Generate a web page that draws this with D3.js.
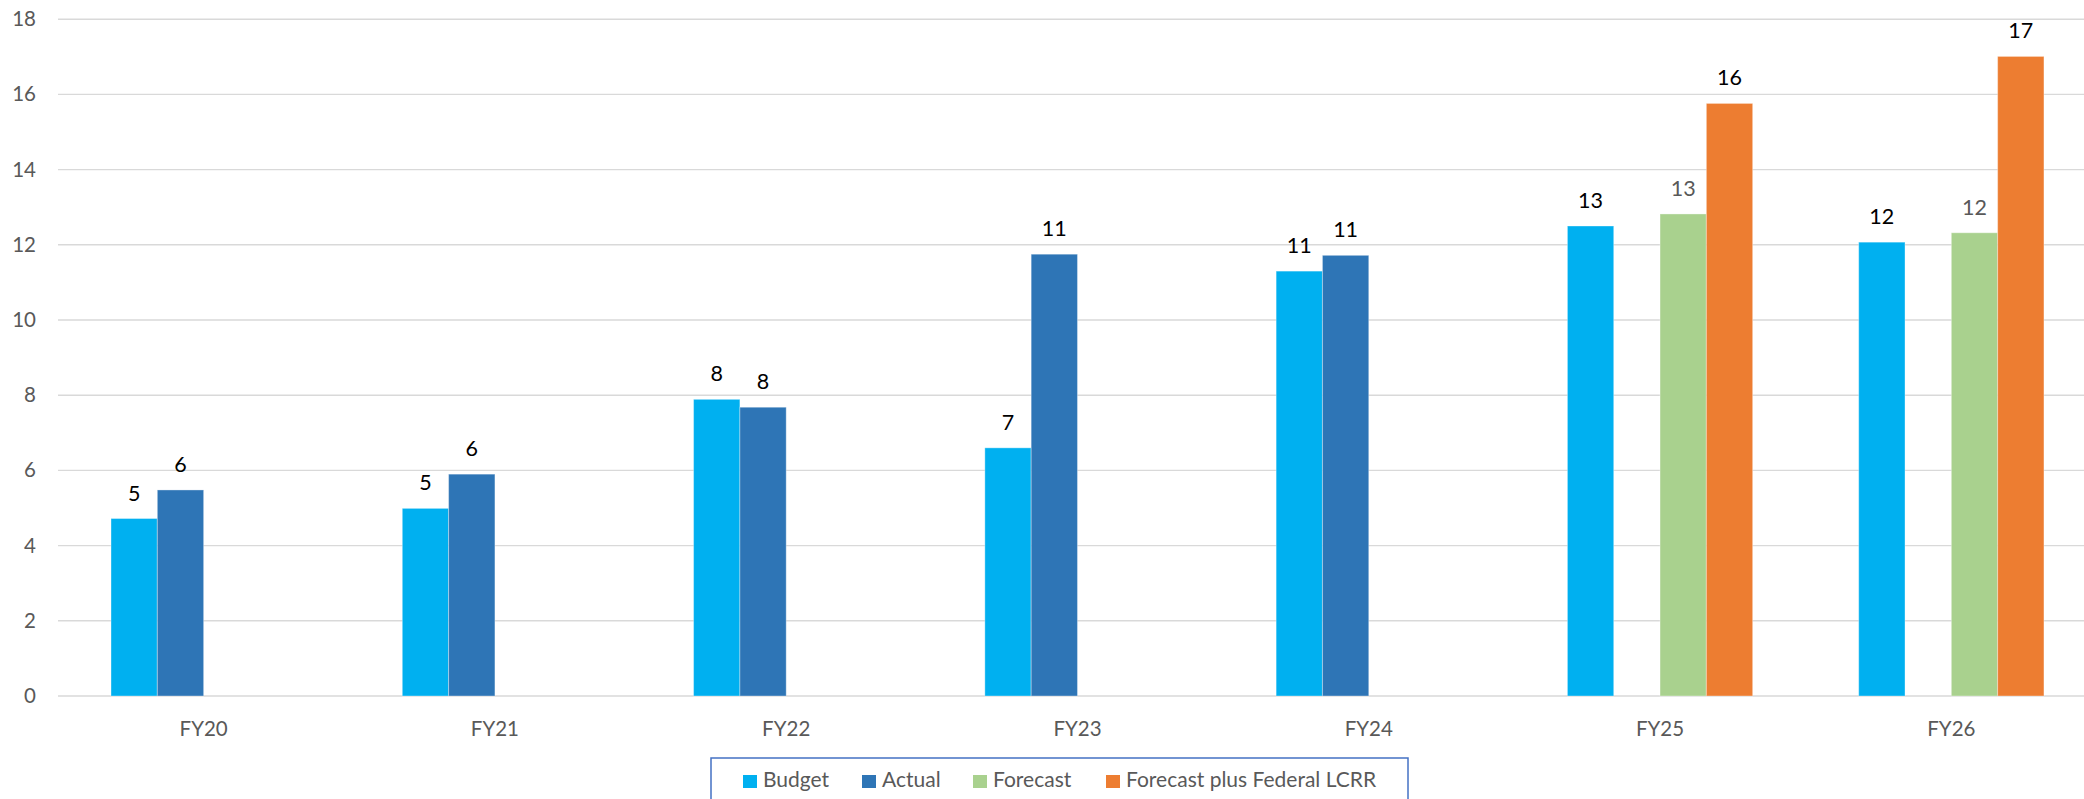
<!DOCTYPE html>
<html>
<head>
<meta charset="utf-8">
<script src="https://cdn.jsdelivr.net/npm/d3@7"></script>
<style>
  html, body { margin: 0; padding: 0; background: #fff; }
  svg { display: block; font-family: Lato, "Open Sans", sans-serif; }
</style>
</head>
<body>
<svg id="chart" width="2084" height="799"></svg>
<script>
// Fiscal years on the category axis
const categories = ["FY20", "FY21", "FY22", "FY23", "FY24", "FY25", "FY26"];

// Series names and colours (legend order)
const seriesNames = ["Budget", "Actual", "Forecast", "Forecast plus Federal LCRR"];
const seriesColors = ["#00B0F0", "#2E75B6", "#A9D18E", "#ED7D31"];

// Series values per fiscal year (null = no bar)
const budget   = [4.72, 4.99, 7.89, 6.60, 11.30, 12.50, 12.07];
const actual   = [5.48, 5.90, 7.68, 11.75, 11.72, null, null];
const forecast = [null, null, null, null, null, 12.82, 12.32];
const forecastLCRR = [null, null, null, null, null, 15.76, 17.01];

// Data labels shown above the bars
const budgetLabels   = ["5", "5", "8", "7", "11", "13", "12"];
const actualLabels   = ["6", "6", "8", "11", "11", null, null];
const forecastLabels = [null, null, null, null, null, "13", "12"];
const forecastLCRRLabels = [null, null, null, null, null, "16", "17"];

// Y-axis ticks
const yTicks = [0, 2, 4, 6, 8, 10, 12, 14, 16, 18];

const seriesValues = [budget, actual, forecast, forecastLCRR];
const seriesLabels = [budgetLabels, actualLabels, forecastLabels, forecastLCRRLabels];

const svg = d3.select("#chart");

const plotLeft = 58;
const step = 291.28;
const padIn = 0.364;

const x0 = d3.scaleBand()
  .domain(categories)
  .range([plotLeft, plotLeft + step * categories.length])
  .paddingInner(padIn)
  .paddingOuter(padIn / 2);

const x1 = d3.scaleBand()
  .domain(seriesNames)
  .range([0, x0.bandwidth()]);

const y = d3.scaleLinear().domain([0, 18]).range([696, 19.2]);

// Horizontal gridlines
svg.append("g")
  .selectAll("line")
  .data(yTicks)
  .join("line")
  .attr("x1", plotLeft)
  .attr("x2", 2084)
  .attr("y1", d => y(d))
  .attr("y2", d => y(d))
  .attr("stroke", "#D9D9D9")
  .attr("stroke-width", 1.4);

// Y-axis tick labels
const yAxis = d3.axisLeft(y).tickValues(yTicks).tickSize(0).tickPadding(0);
const yG = svg.append("g").attr("transform", "translate(36,0)").call(yAxis);
yG.select(".domain").remove();
yG.selectAll("text")
  .attr("fill", "#595959")
  .attr("font-size", 20.5)
  .attr("font-family", "Lato, sans-serif");

// Bars
const rows = [];
categories.forEach((c, i) => {
  seriesNames.forEach((s, j) => {
    const v = seriesValues[j][i];
    if (v != null) rows.push({ cat: c, series: s, idx: j, value: v, label: seriesLabels[j][i] });
  });
});

svg.append("g")
  .selectAll("rect")
  .data(rows)
  .join("rect")
  .attr("x", d => x0(d.cat) + x1(d.series))
  .attr("y", d => y(d.value))
  .attr("width", x1.bandwidth())
  .attr("height", d => y(0) - y(d.value))
  .attr("fill", d => seriesColors[d.idx])
  .attr("stroke", "rgba(255,255,255,0.35)")
  .attr("stroke-width", 1);

// Data labels
svg.append("g")
  .selectAll("text")
  .data(rows.filter(d => d.label != null))
  .join("text")
  .attr("x", d => x0(d.cat) + x1(d.series) + x1.bandwidth() / 2)
  .attr("y", d => y(d.value) - 18)
  .attr("text-anchor", "middle")
  .attr("font-size", 21.5)
  .attr("fill", d => d.series === "Forecast" ? "#595959" : "#000000")
  .text(d => d.label);

// Category axis labels
const xAxis = d3.axisBottom(x0).tickSize(0).tickPadding(0);
const xG = svg.append("g").attr("transform", "translate(0,721)").call(xAxis);
xG.select(".domain").remove();
xG.selectAll("text")
  .attr("fill", "#595959")
  .attr("font-size", 20.5)
  .attr("font-family", "Lato, sans-serif");

// Legend
const legend = svg.append("g");
legend.append("rect")
  .attr("x", 711)
  .attr("y", 758)
  .attr("width", 697)
  .attr("height", 60)
  .attr("fill", "#fff")
  .attr("stroke", "#4472C4")
  .attr("stroke-width", 1.5);

const legendX = [743, 862, 973, 1106];
seriesNames.forEach((s, j) => {
  const g = legend.append("g").attr("transform", `translate(${legendX[j]},0)`);
  g.append("rect")
    .attr("x", 0).attr("y", 775)
    .attr("width", 14).attr("height", 13)
    .attr("fill", seriesColors[j]);
  g.append("text")
    .attr("x", 20).attr("y", 787)
    .attr("font-size", 21)
    .attr("fill", "#595959")
    .text(s);
});
</script>
</body>
</html>
